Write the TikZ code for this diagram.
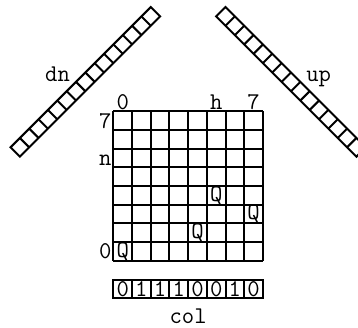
\documentclass[tikz,border=0pt]{standalone}
\usepackage{fontspec}
\tikzset{
  lbl/.style = {font=\fontsize{12}{14}\selectfont\ttfamily, inner sep=0pt},
  cellbox/.style = {line width=1pt}
}
\begin{document}
\begin{tikzpicture}[x = 9.35pt, y = 9.35pt]
\useasboundingbox (-6.059,-3.545) rectangle (13.08,13.94);
% board
\draw[cellbox, step = 1] (0,0) grid (8,8);
\node[lbl, anchor = base] (top0) at (0.5,8.1) {0};
\node[lbl, anchor = base] (toph) at (5.5,8.1) {h};
\node[lbl, anchor = base] (top7) at (7.5,8.1) {7};
\node[lbl, anchor = base east] (left7) at (-0.08,7.08) {7};
\node[lbl, anchor = base east] (leftn) at (-0.08,5.1) {n};
\node[lbl, anchor = base east] (left0) at (-0.08,0.1) {0};
\foreach \c/\r in {0/0, 4/1, 7/2, 5/3}
{
\node[lbl] (q\c) at (\c+0.5, \r+0.5) {Q};
}
% col array
\draw[cellbox] (0,-2) rectangle (8,-1.04);
\foreach \x in {1,...,7}
{
\draw[cellbox] (\x,-2) -- (\x,-1.04);
}
\foreach \x/\b in {0/0,1/1,2/1,3/1,4/0,5/0,6/1,7/0}
{
\node[lbl] (col\x) at (\x+0.5,-1.52) {\b};
}
\node[lbl, anchor = base] (colname) at (4,-3.33) {col};
% diagonals
\begin{scope}[shift = {(-5.246,5.813)}, rotate = 45]
\draw[cellbox] (0,-0.3536) rectangle (10.607,0.3536);
\foreach \i in {1,...,14}
{
\draw[cellbox] (\i*0.7071,-0.3536) -- ++(0,0.7071);
}
\end{scope}
\begin{scope}[shift = {(5.746,13.313)}, rotate = -45]
\draw[cellbox] (0,-0.3536) rectangle (10.607,0.3536);
\foreach \i in {1,...,14}
{
\draw[cellbox] (\i*0.7071,-0.3536) -- ++(0,0.7071);
}
\end{scope}
\node[lbl, anchor = base] (dnname) at (-2.984,9.57) {dn};
\node[lbl, anchor = base] (upname) at (10.98,9.57) {up};
\end{tikzpicture}
\end{document}
